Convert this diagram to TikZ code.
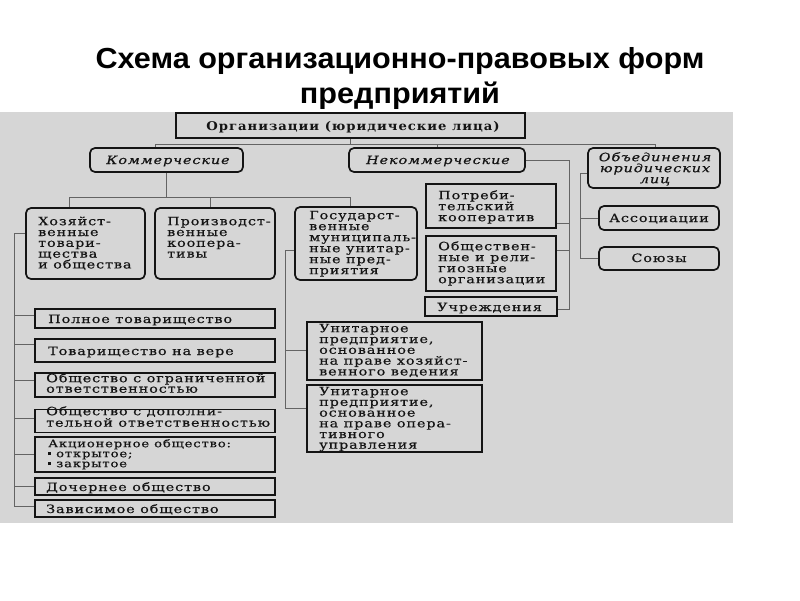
\documentclass[tikz,border=0pt]{standalone}
\usepackage{fontspec}
\usepackage{graphicx}
\setmainfont{DejaVu Serif}
\newfontfamily\bxfont[FakeStretch=1.25, LetterSpace=8, FakeBold=0.5]{DejaVu Serif}
\newfontfamily\orgfont[FakeStretch=1.1, LetterSpace=8]{DejaVu Serif}
\newfontfamily\ttlfont{Liberation Sans}
\definecolor{bg}{RGB}{214,214,214}
\definecolor{ink}{RGB}{20,20,20}
\definecolor{wire}{RGB}{100,100,100}
\setlength\lineskiplimit{-100pt}
\setlength\lineskip{0pt}
\newcommand\fstrut{\rule{0pt}{10pt}}
\newcommand\bul{\makebox[8pt][l]{\raisebox{2pt}{\rule{3pt}{3pt}}}}
\tikzset{
  box/.style={draw=ink, line width=1.7pt, inner sep=0pt},
  rbox/.style={box, rounded corners=5pt},
  sbox/.style={box},
  txt/.style={inner sep=0pt, align=left, text=ink, font=\bxfont\fontsize{11.5}{11}\selectfont},
  ctxt/.style={txt, align=center},
  itxt/.style={txt, align=center, font=\bxfont\itshape\fontsize{11.5}{11}\selectfont},
  conn/.style={draw=wire, line width=0.8pt},
  ttl/.style={inner sep=0pt, text=black, font=\ttlfont\bfseries\fontsize{29}{32}\selectfont}
}
\begin{document}
\begin{tikzpicture}[x=1pt,y=-1pt]
\useasboundingbox (0,0) rectangle (800,600);
\fill[bg] (0,112) rectangle (733,523);

% title
\node[ttl, anchor=base] (t1) at (400,68) {\scalebox{1.055}[1]{Схема организационно-правовых форм}};
\node[ttl, anchor=base] (t2) at (400,103) {\scalebox{1.055}[1]{предприятий}};

% boxes
\node[sbox, minimum width=349pt, minimum height=25pt] (org) at (350.5,125.5) {};
\node[ctxt, anchor=base, font=\orgfont\bfseries\fontsize{12}{11}\selectfont] (orgT) at (353,130) {Организации (юридические лица)};

\node[rbox, minimum width=153pt, minimum height=24pt] (kom) at (166.5,160) {};
\node[itxt, anchor=base] (komT) at (168,164) {Коммерческие};
\node[rbox, minimum width=176pt, minimum height=24pt] (nekom) at (437,160) {};
\node[itxt, anchor=base] (nekomT) at (438,164) {Некоммерческие};
\node[rbox, minimum width=132pt, minimum height=40pt] (obed) at (654,168) {};
\node[itxt, anchor=north] (obedT) at (655,151) {\fstrut Объединения\\юридических\\лиц};
\node[rbox, minimum width=120pt, minimum height=24pt] (assoc) at (659,218) {};
\node[ctxt, anchor=base] (assocT) at (659,222) {Ассоциации};
\node[rbox, minimum width=120pt, minimum height=23pt] (soyuz) at (659,258.5) {};
\node[ctxt, anchor=base] (soyuzT) at (659,262) {Союзы};

\node[sbox, minimum width=130pt, minimum height=44pt] (potreb) at (491,206) {};
\node[txt, anchor=north west] (potrebT) at (438,189) {\fstrut Потреби-\\тельский\\кооператив};
\node[sbox, minimum width=130pt, minimum height=55pt] (obsch) at (491,263.5) {};
\node[txt, anchor=north west] (obschT) at (438,240) {\fstrut Обществен-\\ные и рели-\\гиозные\\организации};
\node[sbox, minimum width=132pt, minimum height=19pt] (uchr) at (491,306.5) {};
\node[txt, anchor=base west] (uchrT) at (437,311) {Учреждения};

\node[rbox, minimum width=119pt, minimum height=71pt] (hoz) at (85.5,243.5) {};
\node[txt, anchor=north west, font=\bxfont\fontsize{11.5}{10.8}\selectfont] (hozT) at (38,215) {\fstrut Хозяйст-\\венные\\товари-\\щества\\и общества};
\node[rbox, minimum width=120pt, minimum height=71pt] (proizv) at (215,243.5) {};
\node[txt, anchor=north west, font=\bxfont\fontsize{11.5}{10.8}\selectfont] (proizvT) at (167,215) {\fstrut Производст-\\венные\\коопера-\\тивы};
\node[rbox, minimum width=122pt, minimum height=73pt] (gos) at (356,243.5) {};
\node[txt, anchor=north west] (gosT) at (309,209) {\fstrut Государст-\\венные\\муниципаль-\\ные унитар-\\ные пред-\\приятия};

\node[sbox, minimum width=175pt, minimum height=58pt] (u1) at (394.5,351) {};
\node[txt, anchor=north west, font=\bxfont\fontsize{11.5}{10.8}\selectfont] (u1T) at (319,322) {\fstrut Унитарное\\предприятие,\\основанное\\на праве хозяйст-\\венного ведения};
\node[sbox, minimum width=175pt, minimum height=67pt] (u2) at (394.5,418.5) {};
\node[txt, anchor=north west, font=\bxfont\fontsize{11.5}{10.7}\selectfont] (u2T) at (319,385) {\fstrut Унитарное\\предприятие,\\основанное\\на праве опера-\\тивного\\управления};

\node[sbox, minimum width=240pt, minimum height=19pt] (p1) at (155,318.5) {};
\node[txt, anchor=base west] (p1T) at (48,323) {Полное товарищество};
\node[sbox, minimum width=240pt, minimum height=23pt] (p2) at (155,350.5) {};
\node[txt, anchor=base west] (p2T) at (48,355) {Товарищество на вере};
\node[sbox, minimum width=240pt, minimum height=24pt] (p3) at (155,385) {};
\node[txt, anchor=north west, font=\bxfont\fontsize{11.5}{10.5}\selectfont] (p3T) at (46,372) {\fstrut Общество с ограниченной\\ответственностью};
\node[sbox, minimum width=240pt, minimum height=23pt] (p4) at (155,421) {};
\node[txt, anchor=north west, font=\bxfont\fontsize{11.5}{11.5}\selectfont] (p4T) at (46,405) {\fstrut Общество с дополни-\\тельной ответственностью};
\node[sbox, minimum width=240pt, minimum height=35pt] (p5) at (155,454.5) {};
\node[txt, anchor=north west, font=\bxfont\fontsize{10.5}{10}\selectfont] (p5T) at (48,437) {\fstrut Акционерное общество:\\\bul открытое;\\\bul закрытое};
\node[sbox, minimum width=240pt, minimum height=17pt] (p6) at (155,486.5) {};
\node[txt, anchor=base west] (p6T) at (46,491) {Дочернее общество};
\node[sbox, minimum width=240pt, minimum height=17pt] (p7) at (155,508.5) {};
\node[txt, anchor=base west] (p7T) at (46,513) {Зависимое общество};

% connectors
\coordinate (a0) at (155,144);
\coordinate (a1) at (655,144);
\draw[conn] (org.south) -- (org.south |- a0);
\draw[conn] (a0 |- kom.north) -- (a0) -- (a1) -- (a1 |- obed.north);
\draw[conn] (nekom.north) -- (nekom.north |- a0);

\coordinate (c0) at (69,197);
\coordinate (c1) at (350,197);
\coordinate (c2) at (210,197);
\draw[conn] (kom.south) -- (kom.south |- c0);
\draw[conn] (c0 |- hoz.north) -- (c0) -- (c1) -- (c1 |- gos.north);
\draw[conn] (c2) -- (c2 |- proizv.north);

\coordinate (n1) at (569,223);
\coordinate (n2) at (569,250);
\coordinate (n3) at (569,309);
\draw[conn] (nekom.east) -| (n3) -- (n3 -| uchr.east);
\draw[conn] (n1) -- (n1 -| potreb.east);
\draw[conn] (n2) -- (n2 -| obsch.east);

\coordinate (o1) at (580,173);
\coordinate (o2) at (580,218);
\coordinate (o3) at (580,258);
\draw[conn] (o1 -| obed.west) -- (o1) -- (o3) -- (o3 -| soyuz.west);
\draw[conn] (o2) -- (o2 -| assoc.west);

\coordinate (h0) at (14,233);
\coordinate (h1) at (14,315);
\coordinate (h2) at (14,344);
\coordinate (h3) at (14,380);
\coordinate (h4) at (14,418);
\coordinate (h5) at (14,454);
\coordinate (h6) at (14,486);
\coordinate (h7) at (14,506);
\draw[conn] (h0 -| hoz.west) -- (h0) -- (h7) -- (h7 -| p7.west);
\draw[conn] (h1) -- (h1 -| p1.west);
\draw[conn] (h2) -- (h2 -| p2.west);
\draw[conn] (h3) -- (h3 -| p3.west);
\draw[conn] (h4) -- (h4 -| p4.west);
\draw[conn] (h5) -- (h5 -| p5.west);
\draw[conn] (h6) -- (h6 -| p6.west);

\coordinate (g0) at (285,250);
\coordinate (g1) at (285,350);
\coordinate (g2) at (285,408);
\draw[conn] (g0 -| gos.west) -- (g0) -- (g2) -- (g2 -| u2.west);
\draw[conn] (g1) -- (g1 -| u1.west);
\end{tikzpicture}
\end{document}
